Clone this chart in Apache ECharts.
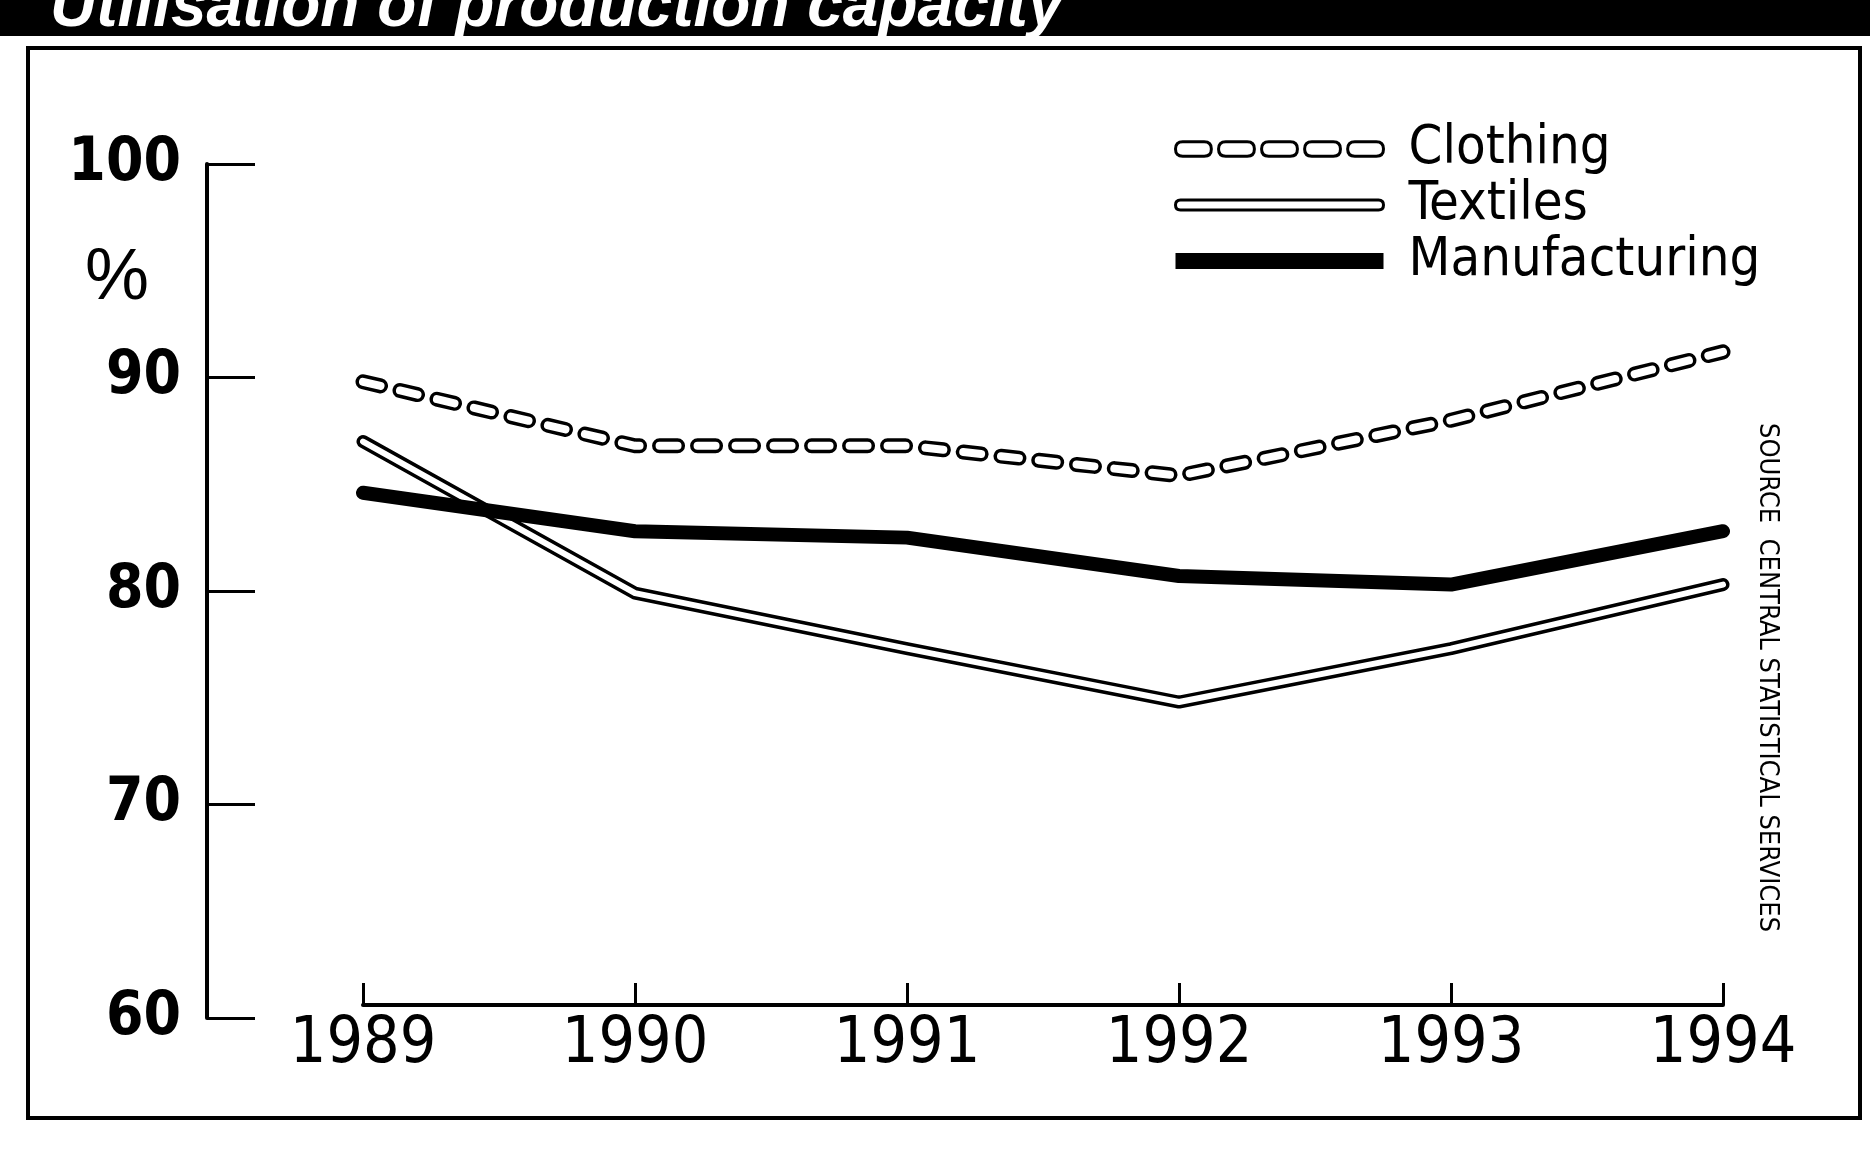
<!DOCTYPE html>
<html>
<head>
<meta charset="utf-8">
<title>Utilisation of production capacity</title>
<script src="https://cdn.jsdelivr.net/npm/echarts@6/dist/echarts.min.js"></script>
<style>
  html, body { margin: 0; padding: 0; background: #fff; }
  #chart { width: 1870px; height: 1158px; }
</style>
</head>
<body>
<div id="chart"></div>
<script>
const years = ['1989', '1990', '1991', '1992', '1993', '1994']
const clothing = [89.8, 86.8, 86.8, 85.4, 88.0, 91.2]
const textiles = [87.0, 79.9, 77.3, 74.8, 77.3, 80.3]
const manufacturing = [84.6, 82.8, 82.5, 80.7, 80.3, 82.8]
const yMin = 60
const yMax = 100
const yStep = 10

const narrow = "'DejaVu Sans Condensed', 'Liberation Sans Narrow', sans-serif"

// legend keys drawn as outlines, like the printed chart
function pill(x, y, w, h) {
  const r = h / 2
  return 'M' + (x + r) + ',' + y + ' L' + (x + w - r) + ',' + y +
    ' Q' + (x + w) + ',' + y + ' ' + (x + w) + ',' + (y + r) +
    ' Q' + (x + w) + ',' + (y + h) + ' ' + (x + w - r) + ',' + (y + h) +
    ' L' + (x + r) + ',' + (y + h) +
    ' Q' + x + ',' + (y + h) + ' ' + x + ',' + (y + r) +
    ' Q' + x + ',' + y + ' ' + (x + r) + ',' + y + ' Z '
}
let clothKey = 'path://'
for (let i = 0; i < 5; i++) {
  clothKey += pill(i * 42, 1, 35, 14)
}
const textKey = 'path://' + pill(0, 3, 208, 10)

const chart = echarts.init(document.getElementById('chart'))

const option = {
  animation: false,
  backgroundColor: '#fff',
  grid: {
    left: 363,
    right: 147,
    top: 164,
    bottom: 140
  },
  legend: {
    orient: 'vertical',
    left: 1169,
    top: 116,
    itemWidth: 208,
    itemHeight: 16,
    itemGap: 0,
    selectedMode: false,
    textStyle: {
      fontFamily: narrow,
      fontSize: 54,
      lineHeight: 56,
      color: '#000',
      padding: [0, 0, 0, 20]
    },
    data: [
      { name: 'Clothing', icon: clothKey, itemStyle: { color: '#fff', borderColor: '#000', borderWidth: 3 } },
      { name: 'Textiles', icon: textKey, itemStyle: { color: '#fff', borderColor: '#000', borderWidth: 3 } },
      { name: 'Manufacturing', icon: 'rect', itemStyle: { color: '#000', borderWidth: 0 } }
    ]
  },
  xAxis: {
    type: 'category',
    data: years,
    boundaryGap: false,
    offset: -13,
    axisLine: { show: true, lineStyle: { color: '#000', width: 4 } },
    axisTick: { show: true, inside: true, length: 22, lineStyle: { color: '#000', width: 3 } },
    axisLabel: { fontFamily: narrow, fontSize: 64, color: '#000', margin: 8 },
    splitLine: { show: false }
  },
  yAxis: {
    type: 'value',
    min: yMin,
    max: yMax,
    interval: yStep,
    offset: 156,
    axisLine: { show: true, lineStyle: { color: '#000', width: 4 } },
    axisTick: { show: true, inside: true, length: 48, lineStyle: { color: '#000', width: 3 } },
    axisLabel: { fontFamily: narrow, fontWeight: 'bold', fontSize: 60, color: '#000', margin: 26 },
    splitLine: { show: false }
  },
  series: [
    {
      name: 'Textiles',
      type: 'line',
      data: textiles,
      symbol: 'none',
      itemStyle: { color: '#000' },
      lineStyle: { color: '#000', width: 13, join: 'round', cap: 'round' }
    },
    {
      name: 'Textiles inner',
      type: 'line',
      data: textiles,
      symbol: 'none',
      itemStyle: { color: '#fff' },
      lineStyle: { color: '#fff', width: 6, join: 'round', cap: 'round' }
    },
    {
      name: 'Manufacturing',
      type: 'line',
      data: manufacturing,
      symbol: 'none',
      itemStyle: { color: '#000' },
      lineStyle: { color: '#000', width: 14, join: 'round', cap: 'round' }
    },
    {
      name: 'Clothing',
      type: 'line',
      data: clothing,
      symbol: 'none',
      itemStyle: { color: '#000' },
      lineStyle: { color: '#000', width: 15, type: [18, 20], join: 'round', cap: 'round' }
    },
    {
      name: 'Clothing inner',
      type: 'line',
      data: clothing,
      symbol: 'none',
      itemStyle: { color: '#fff' },
      lineStyle: { color: '#fff', width: 8, type: [18, 20], join: 'round', cap: 'round' }
    }
  ],
  graphic: [
    {
      type: 'rect',
      shape: { x: 0, y: 0, width: 1870, height: 36 },
      style: { fill: '#000' }
    },
    {
      type: 'text',
      x: 50,
      y: 40,
      style: {
        text: 'Utilisation of production capacity',
        fill: '#fff',
        font: 'italic bold 64px "Liberation Sans", sans-serif',
        textVerticalAlign: 'bottom'
      }
    },
    {
      type: 'rect',
      shape: { x: 28, y: 48, width: 1832, height: 1070 },
      style: { fill: 'none', stroke: '#000', lineWidth: 4 }
    },
    {
      type: 'text',
      x: 117,
      y: 279,
      style: {
        text: '%',
        fill: '#000',
        font: '72px "Liberation Sans", sans-serif',
        textAlign: 'center',
        textVerticalAlign: 'middle'
      }
    },
    {
      type: 'text',
      x: 1767,
      y: 423,
      rotation: -Math.PI / 2,
      style: {
        text: 'SOURCE  CENTRAL STATISTICAL SERVICES',
        fill: '#000',
        font: '27px ' + narrow,
        textAlign: 'left',
        textVerticalAlign: 'middle'
      }
    }
  ]
}

chart.setOption(option)
</script>
</body>
</html>
